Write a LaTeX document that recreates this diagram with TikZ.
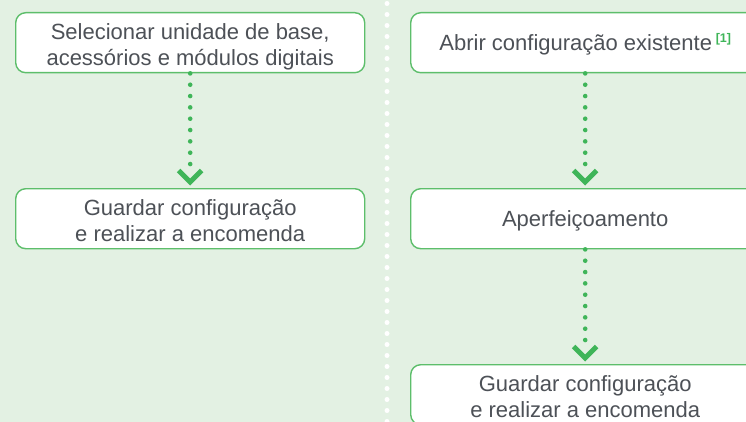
\documentclass[tikz,border=0pt]{standalone}
\usepackage{fontspec}
\setmainfont{Liberation Sans}
\definecolor{bg}{HTML}{E3F1E3}
\definecolor{boxline}{HTML}{5DBE6B}
\definecolor{arrowgreen}{HTML}{3FB559}
\definecolor{txt}{HTML}{4D5157}
\tikzset{
  stepbox/.style={draw=boxline, line width=1.4pt, fill=white, rounded corners=10pt,
    minimum width=349pt, minimum height=60pt, inner sep=0pt, align=center,
    text=txt, font=\fontsize{22}{26}\selectfont, anchor=north west},
  twoline/.style={text height=46pt, text depth=0pt},
  oneline/.style={text height=18pt, text depth=2pt},
  dotline/.style={draw=arrowgreen, line width=4.6pt, line cap=round, dash pattern=on 0pt off 11.33pt},
  chevron/.style={draw=arrowgreen, line width=5pt, line cap=butt, line join=miter},
  divider/.style={draw=white, line width=5pt, line cap=round, dash pattern=on 0pt off 11pt}
}
\begin{document}
\begin{tikzpicture}[x=1pt,y=-1pt]
\useasboundingbox[fill=bg] (0,0) rectangle (746,422);
\clip (0,0) rectangle (746,422);
% divider
\coordinate (dtop) at (387,3.5);
\coordinate (dbot) at (387,430);
\draw[divider] (dtop) -- (dbot);
% boxes
\node[stepbox,twoline] (L1) at (15,12) {Selecionar unidade de base,\\acessórios e módulos digitais};
\node[stepbox,twoline] (L2) at (15,188) {Guardar configuração\\e realizar a encomenda};
\node[stepbox,oneline] (R1) at (410,12) {Abrir configuração existente\,\raisebox{8pt}{\textcolor{arrowgreen}{\fontsize{12.5}{12.5}\selectfont\bfseries [1]}}};
\node[stepbox,oneline] (R2) at (410,188) {Aperfeiçoamento};
\node[stepbox,twoline] (R3) at (410,364) {Guardar configuração\\e realizar a encomenda};
% connectors
\foreach \a/\b in {L1/L2, R1/R2, R2/R3}{
  \draw[dotline] (\a.south) -- ([yshift=13pt]\b.north);
  \draw[chevron] ([xshift=-11.5pt,yshift=17.5pt]\b.north) -- ([yshift=6pt]\b.north) -- ([xshift=11.5pt,yshift=17.5pt]\b.north);
}
\end{tikzpicture}
\end{document}
